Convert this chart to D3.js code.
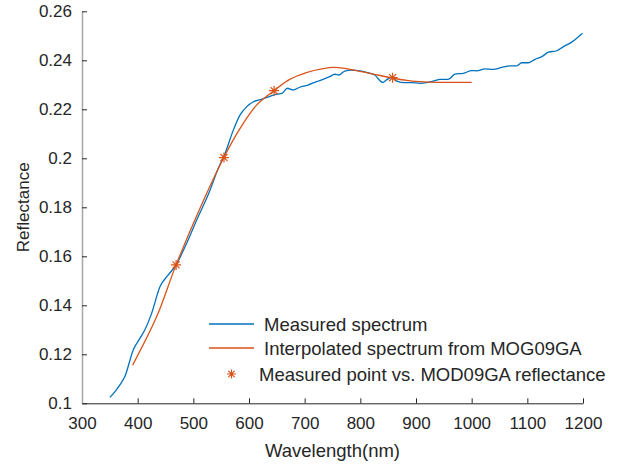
<!DOCTYPE html>
<html>
<head>
<meta charset="utf-8">
<script src="https://cdn.jsdelivr.net/npm/d3@7"></script>
<style>
  body { margin: 0; background: #fff; }
  text { font-family: "Liberation Sans", Arial, sans-serif; fill: #262626; }
</style>
</head>
<body>
<div id="chart"></div>
<script>
// measured field spectrum
var measuredWl = [350, 360, 368, 377, 392, 404, 413, 425, 440, 455, 469, 488, 506, 530, 545, 557, 572, 584, 596, 608, 623, 635, 650, 659, 669, 679, 691, 706, 721, 733, 745, 754, 761, 772, 784, 799, 811, 826, 834, 840, 847, 856, 865, 877, 892, 907, 919, 934, 943, 958, 970, 985, 1000, 1009, 1024, 1039, 1054, 1069, 1081, 1090, 1102, 1114, 1126, 1138, 1153, 1165, 1176, 1185, 1199];
var measuredRefl = [0.1024, 0.1050, 0.1075, 0.1109, 0.1218, 0.1265, 0.1300, 0.1367, 0.1476, 0.1524, 0.1565, 0.1653, 0.1748, 0.1870, 0.1960, 0.2020, 0.2116, 0.2177, 0.2211, 0.2231, 0.2241, 0.2251, 0.2262, 0.2265, 0.2286, 0.2279, 0.2290, 0.2299, 0.2313, 0.2322, 0.2333, 0.2343, 0.2340, 0.2356, 0.2360, 0.2357, 0.2351, 0.2340, 0.2320, 0.2310, 0.2320, 0.2331, 0.2316, 0.2309, 0.2309, 0.2306, 0.2309, 0.2317, 0.2322, 0.2322, 0.2344, 0.2347, 0.2358, 0.2357, 0.2365, 0.2363, 0.2371, 0.2377, 0.2377, 0.2390, 0.2390, 0.2404, 0.2415, 0.2433, 0.2439, 0.2456, 0.2469, 0.2483, 0.2510];

// interpolated spectrum from MODIS bands
var interpWl = [391, 434, 469, 512, 555, 584, 614, 645, 673, 703, 733, 751, 775, 799, 823, 858, 883, 907, 937, 1000];
var interpRefl = [0.1156, 0.1353, 0.1565, 0.1796, 0.2004, 0.2122, 0.2218, 0.2276, 0.2322, 0.2350, 0.2366, 0.2371, 0.2366, 0.2355, 0.2344, 0.2328, 0.2318, 0.2313, 0.2310, 0.2310];

// measured points vs MOD09GA
var pointWl = [469, 555, 645, 858];
var pointRefl = [0.1565, 0.2003, 0.2276, 0.2329];

var xTicks = [300, 400, 500, 600, 700, 800, 900, 1000, 1100, 1200];
var yTicks = [0.1, 0.12, 0.14, 0.16, 0.18, 0.2, 0.22, 0.24, 0.26];

var legendLabels = ["Measured spectrum", "Interpolated spectrum from MOG09GA", "Measured point vs. MOD09GA reflectance"];

var width = 618, height = 466;
var blue = "#0072BD", orange = "#D95319";

var svg = d3.select("#chart").append("svg")
  .attr("width", width)
  .attr("height", height);

var x = d3.scaleLinear().domain([300, 1200]).range([82, 583]);
var y = d3.scaleLinear().domain([0.1, 0.26]).range([403.3, 11.3]);

function fmt(d) { return d3.format("~g")(+d.toFixed(2)); }

// axes
var xAxis = svg.append("g")
  .attr("transform", "translate(0," + y(0.1) + ")")
  .call(d3.axisBottom(x).tickValues(xTicks).tickFormat(d3.format("d"))
    .tickSizeInner(-5).tickSizeOuter(0).tickPadding(14));
xAxis.select(".domain").attr("stroke", "#262626");
xAxis.selectAll(".tick line").attr("stroke", "#262626");
xAxis.selectAll("text").style("font-size", "17px").attr("fill", "#262626");

var yAxis = svg.append("g")
  .attr("transform", "translate(" + x(300) + ",0)")
  .call(d3.axisLeft(y).tickValues(yTicks).tickFormat(fmt).tickSizeInner(-5).tickSizeOuter(0).tickPadding(10));
yAxis.select(".domain").attr("stroke", "#a6a6a6").attr("stroke-width", 1.5);
yAxis.selectAll(".tick line").attr("stroke", "#262626");
yAxis.selectAll("text").style("font-size", "17px").attr("fill", "#262626");

svg.append("text")
  .attr("x", (x(300) + x(1200)) / 2)
  .attr("y", 457)
  .attr("text-anchor", "middle")
  .style("font-size", "18.5px")
  .text("Wavelength(nm)");

svg.append("text")
  .attr("transform", "translate(29," + (y(0.18)) + ") rotate(-90)")
  .attr("text-anchor", "middle")
  .style("font-size", "17px")
  .text("Reflectance");

// lines
var measured = measuredWl.map(function (d, i) { return [d, measuredRefl[i]]; });
var interp = interpWl.map(function (d, i) { return [d, interpRefl[i]]; });

var line = d3.line()
  .x(function (d) { return x(d[0]); })
  .y(function (d) { return y(d[1]); })
  .curve(d3.curveMonotoneX);

var smooth = d3.line()
  .x(function (d) { return x(d[0]); })
  .y(function (d) { return y(d[1]); })
  .curve(d3.curveCatmullRom.alpha(0.5));

svg.append("path")
  .attr("fill", "none")
  .attr("stroke", blue)
  .attr("stroke-width", 1.3)
  .attr("d", line(measured));

svg.append("path")
  .attr("fill", "none")
  .attr("stroke", orange)
  .attr("stroke-width", 1.3)
  .attr("d", smooth(interp));

// asterisk marker, + and x arms
function star(cx, cy, r) {
  var d = r * Math.SQRT1_2;
  return "M" + (cx - r) + "," + cy + "H" + (cx + r) +
    "M" + cx + "," + (cy - r) + "V" + (cy + r) +
    "M" + (cx - d) + "," + (cy - d) + "L" + (cx + d) + "," + (cy + d) +
    "M" + (cx - d) + "," + (cy + d) + "L" + (cx + d) + "," + (cy - d);
}

svg.selectAll(".pt")
  .data(pointWl)
  .enter().append("path")
  .attr("class", "pt")
  .attr("fill", "none")
  .attr("stroke", orange)
  .attr("stroke-width", 1.2)
  .attr("d", function (d, i) { return star(x(d), y(pointRefl[i]), 5); });

// legend
var lg = svg.append("g");
var rows = [324, 348, 374];
lg.append("line").attr("x1", 209).attr("x2", 254).attr("y1", rows[0]).attr("y2", rows[0])
  .attr("stroke", blue).attr("stroke-width", 1.3);
lg.append("line").attr("x1", 209).attr("x2", 254).attr("y1", rows[1]).attr("y2", rows[1])
  .attr("stroke", orange).attr("stroke-width", 1.3);
lg.append("path").attr("fill", "none").attr("stroke", orange).attr("stroke-width", 1.2)
  .attr("d", star(231.5, rows[2], 4.5));

lg.selectAll(".lt")
  .data(legendLabels)
  .enter().append("text")
  .attr("class", "lt")
  .attr("x", function (d, i) { return i < 2 ? 264 : 259; })
  .attr("y", function (d, i) { return rows[i] + 6.5; })
  .style("font-size", "18.5px")
  .text(function (d) { return d; });
</script>
</body>
</html>
